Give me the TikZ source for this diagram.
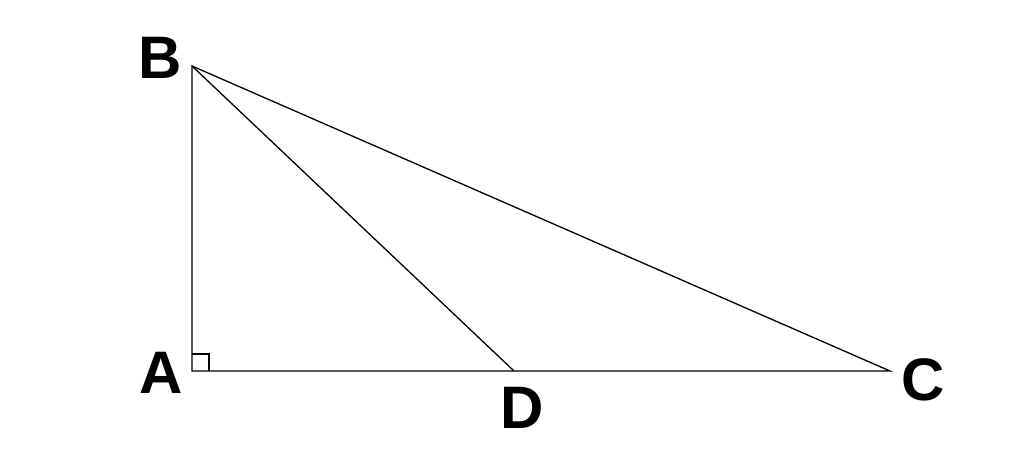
\documentclass[tikz,border=0pt]{standalone}
\usepackage{fontspec}
\setmainfont{Liberation Sans}
\begin{document}
\begin{tikzpicture}[x=1pt,y=-1pt,
  edge/.style={line width=1.3pt,black},
  lab/.style={font=\fontsize{60}{60}\selectfont\bfseries,inner sep=0pt,anchor=center}]
\useasboundingbox (0,0) rectangle (1024,468);
\coordinate (A) at (192,371);
\coordinate (B) at (192,66);
\coordinate (C) at (890,371);
\coordinate (D) at (514,371);
\coordinate (R1) at (192,354);
\coordinate (R2) at (209,354);
\coordinate (R3) at (209,371);
\draw[edge] (A) -- (B) -- (C) -- cycle;
\draw[edge] (B) -- (D);
\draw[line width=1.2pt] (R1) -- (R2) -- (R3);
\node[lab] (lB) at (160,58) {B};
\node[lab] (lA) at (161,373) {A};
\node[lab] (lD) at (522,408) {D};
\node[lab] (lC) at (923,380) {C};
\end{tikzpicture}
\end{document}
